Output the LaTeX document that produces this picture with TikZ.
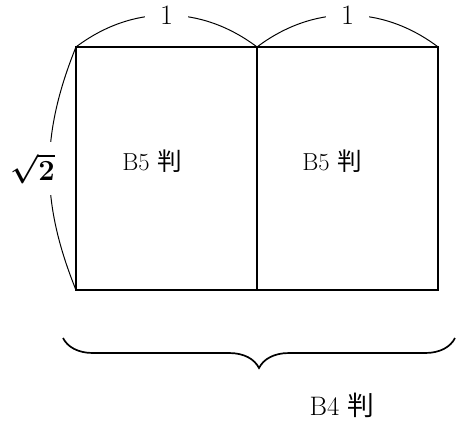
\documentclass[tikz,border=0pt]{standalone}
\usepackage{fontspec}
\usepackage{tikz}
\usetikzlibrary{positioning,decorations.pathreplacing}
\newfontfamily\jpfont{Noto Sans CJK JP}

\tikzset{
  page/.style={draw, line width=1.4pt, outer sep=0pt, minimum width=4.525cm, minimum height=6.075cm, inner sep=0pt},
  papername/.style={font=\fontsize{17.5}{21}\selectfont},
  dim/.style={line width=0.7pt},
  unitlbl/.style={fill=white, inner xsep=11pt, inner ysep=1pt, font=\fontsize{20}{24}\selectfont},
  rootlbl/.style={fill=white, inner xsep=1pt, inner ysep=8pt, font=\fontsize{21}{25}\selectfont\boldmath},
  bigbrace/.style={line width=1.2pt, decorate, decoration={brace, mirror, amplitude=0.75cm}}
}

\begin{document}
\begin{tikzpicture}[x=0.025cm, y=-0.025cm]
  \useasboundingbox (0,0) rectangle (457,423);
  \node[page] (b5l) at (166.5,168.5) {};
  \node[page, right=0pt of b5l] (b5r) {};
  \node[papername] (b5ltxt) at (152,161) {B5 {\jpfont 判}};
  \node[papername] (b5rtxt) at (332,161) {B5 {\jpfont 判}};

  \draw[dim] (b5l.north west) to[bend left=37] node[unitlbl] (onel) {1} (b5l.north east);
  \draw[dim] (b5r.north west) to[bend left=37] node[unitlbl] (oner) {1} (b5r.north east);
  \draw[dim] (b5l.south west) to[bend left=22] node[rootlbl, xshift=-0.42cm] (root) {$\sqrt{2}$} (b5l.north west);

  \coordinate (bracel) at (63,338);
  \coordinate (bracer) at (455,338);
  \draw[bigbrace] (bracel) -- (bracer);
  \node[papername, font=\fontsize{19}{23}\selectfont] (b4txt) at (342,405) {B4 {\jpfont 判}};
\end{tikzpicture}
\end{document}
